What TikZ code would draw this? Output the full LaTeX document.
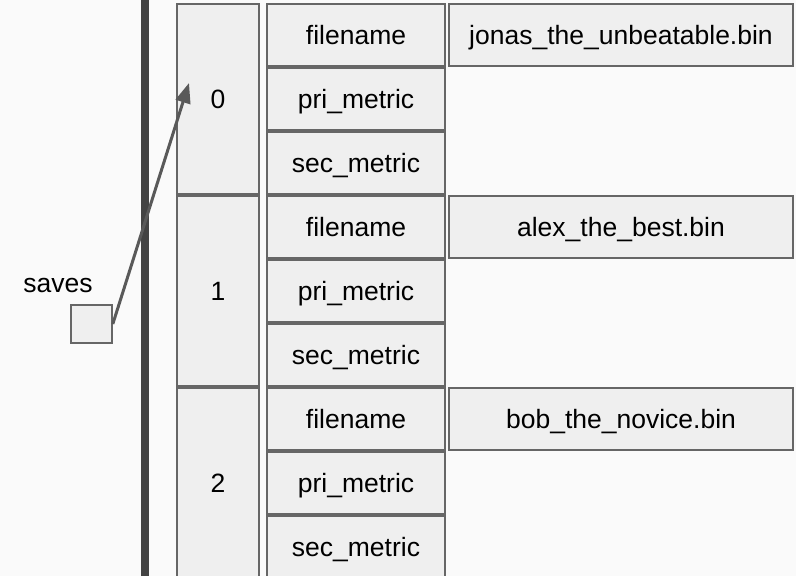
\documentclass[tikz,border=0pt]{standalone}
\usepackage{fontspec}
\setmainfont{Liberation Sans}
\usetikzlibrary{arrows.meta}
\definecolor{boxfill}{HTML}{EFEFEF}
\definecolor{boxline}{HTML}{666666}
\definecolor{barcol}{HTML}{434343}
\definecolor{arrowcol}{HTML}{595959}
\definecolor{bgcol}{HTML}{FAFAFA}
\begin{document}
\begin{tikzpicture}[x=1pt,y=-1pt,
  cell/.style={draw=boxline, fill=boxfill, line width=1.6pt, rectangle,
    inner sep=0pt, text height=19pt, text depth=0pt,
    font=\fontsize{26.5}{30}\selectfont, text=black},
  idxcell/.style={cell, minimum width=82pt, minimum height=190pt},
  fieldcell/.style={cell, minimum width=178pt, minimum height=62pt},
  valuecell/.style={cell, minimum width=344pt, minimum height=62pt},
  label/.style={inner sep=0pt, font=\fontsize{26.5}{30}\selectfont, text=black}]
  \fill[bgcol] (0,0) rectangle (796,576);
  \useasboundingbox (0,0) rectangle (796,576);
  \clip (0,0) rectangle (796,576);

  % array spine
  \fill[barcol] (141,-10) rectangle (149,590);

  % index boxes
  \node[idxcell] (idx0) at (218,99)  {0};
  \node[idxcell] (idx1) at (218,291) {1};
  \node[idxcell] (idx2) at (218,483) {2};

  % fields of entry 0
  \node[fieldcell] (fn0)  at (356,35)  {filename};
  \node[fieldcell] (pri0) at (356,99)  {pri\_metric};
  \node[fieldcell] (sec0) at (356,163) {sec\_metric};
  \node[valuecell] (val0) at (621,35)  {jonas\_the\_unbeatable.bin};

  % fields of entry 1
  \node[fieldcell] (fn1)  at (356,227) {filename};
  \node[fieldcell] (pri1) at (356,291) {pri\_metric};
  \node[fieldcell] (sec1) at (356,355) {sec\_metric};
  \node[valuecell] (val1) at (621,227) {alex\_the\_best.bin};

  % fields of entry 2
  \node[fieldcell] (fn2)  at (356,419) {filename};
  \node[fieldcell] (pri2) at (356,483) {pri\_metric};
  \node[fieldcell] (sec2) at (356,547) {sec\_metric};
  \node[valuecell] (val2) at (621,419) {bob\_the\_novice.bin};

  % pointer variable
  \node[label] (saveslbl) at (58,285) {saves};
  \node[cell, minimum width=41pt, minimum height=38pt] (saves) at (91.5,324) {};
  \coordinate (target) at (189,83);
  \draw[arrowcol, line width=3pt,
        -{Triangle[length=20pt, width=15pt]}] (saves.east) -- (target);
\end{tikzpicture}
\end{document}
